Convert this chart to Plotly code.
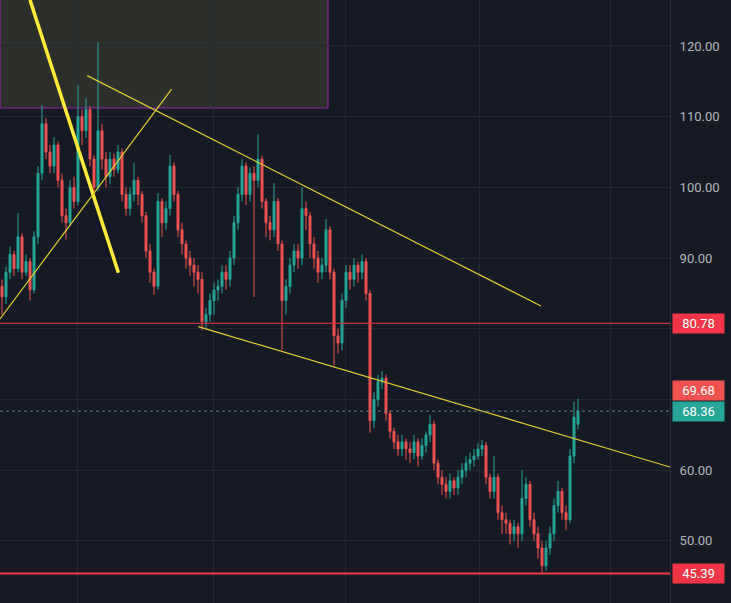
import plotly.graph_objects as go

close = [84.5, 88, 90.5, 88.5, 93, 88, 89.5, 85.5, 93, 102,
         109, 105, 103, 106, 101, 96, 95, 100, 98, 110,
         108, 111, 104, 100, 108, 104, 101.5, 104, 102.5, 105,
         99, 97, 99, 101, 99, 96, 91, 88, 86, 98,
         95, 97, 103, 99, 94, 92, 90, 89, 88, 87,
         81, 82, 84, 85.5, 86, 88, 87, 90, 95, 99,
         103, 99, 102, 101, 104, 98, 95, 94, 98, 92,
         84, 86, 89, 91, 90, 97, 96, 92, 90, 88,
         89, 94, 88, 79, 78, 84, 88, 87, 89, 88,
         89.5, 85, 67, 70, 72.5, 73, 68, 65.5, 64, 63,
         64, 63, 62.5, 64, 62, 63.5, 65, 66.5, 61, 59,
         58, 57, 58.5, 57.5, 59, 60, 61, 61.5, 62, 63,
         63.5, 59, 57, 59, 54, 53, 52.5, 51, 52, 51,
         56, 58, 53, 51, 49, 46.5, 49, 51, 55, 57,
         54, 53, 62, 67.5, 68.36]

open_ = [86, 84.5, 88, 90.5, 88.5, 93, 88, 89.5, 85.5, 93,
         102, 109, 105, 103, 106, 101, 96, 95, 100, 98,
         110, 108, 111, 104, 100, 108, 104, 101.5, 104, 102.5,
         105, 99, 97, 99, 101, 99, 96, 91, 88, 86,
         98, 95, 97, 103, 99, 94, 92, 90, 89, 88,
         87, 81, 82, 84, 85.5, 86, 88, 87, 90, 95,
         99, 103, 99, 102, 101, 104, 98, 95, 94, 98,
         92, 84, 86, 89, 91, 90, 97, 96, 92, 90,
         88, 89, 94, 88, 79, 78, 84, 88, 87, 89,
         88, 89.5, 85, 67, 70, 72.5, 73, 68, 65.5, 64,
         63, 64, 63, 62.5, 64, 62, 63.5, 65, 66.5, 61,
         59, 58, 57, 58.5, 57.5, 59, 60, 61, 61.5, 62,
         63, 63.5, 59, 57, 59, 54, 53, 52.5, 51, 52,
         51, 56, 58, 53, 51, 49, 46.5, 49, 51, 55,
         57, 54, 53, 62, 66.5]

high = [87, 88.8, 91.6, 91, 96.4, 93.5, 90.5, 90, 93.8, 103,
        111.6, 109.8, 106, 107.1, 106.5, 102, 97, 101, 101.5, 114.5,
        111, 112.6, 111.5, 104.5, 120.5, 109, 105, 105, 104.8, 106,
        105.5, 100, 100, 103.5, 101.5, 99.5, 96.5, 92, 88.5, 99.2,
        98.5, 98, 104.6, 103.5, 99.5, 95, 92.5, 91, 90, 89,
        88, 83, 85, 86.5, 87, 89, 89, 91, 96, 100,
        104, 103.5, 102.8, 103, 107.5, 104.5, 98.5, 96, 100.6, 98.5,
        92.5, 87, 90, 92, 92, 100, 98, 96.5, 93, 91,
        90, 95.5, 94.5, 88.5, 80, 85, 89, 89, 90, 89.5,
        90.5, 90, 85.5, 71, 73.5, 74, 73.5, 68.5, 66, 65,
        65, 64.5, 64, 65, 64.5, 64.5, 65.5, 67.8, 67, 61.5,
        60, 59, 59.5, 59, 60, 61, 62, 62.5, 63, 63.8,
        64.3, 64, 59.5, 62, 59.5, 55, 54, 53, 53, 52.5,
        60, 59, 58.5, 54, 52, 50, 50, 52, 56, 58.5,
        57.5, 55, 63, 69.68, 70.1]

low = [82, 83.5, 87, 87.5, 88, 87, 87.5, 84, 85, 92,
       101, 104, 102, 102, 100, 95, 92.6, 94.5, 97, 97.5,
       106, 107, 103, 99, 99.5, 102.5, 100, 100.5, 101.5, 102,
       98, 96, 96, 98, 97.5, 95, 90, 86.5, 84.8, 85.5,
       93, 94, 96, 98, 93, 90.5, 88.5, 87.5, 86, 85,
       79.8, 80, 81, 82, 84, 85, 85.5, 86, 89, 94,
       98, 97.5, 98, 84.5, 100, 97, 93, 92.5, 93, 91,
       77, 82, 85, 88, 88.5, 89, 94, 90, 88.5, 86.5,
       87, 88, 87, 74.8, 76.5, 77, 83, 85.5, 86, 86.5,
       87, 84, 65.3, 66, 69, 71.5, 67, 64.5, 63, 62,
       62, 61.5, 61, 61.5, 60.5, 61.5, 62.5, 64, 60, 58,
       56.5, 56, 56, 56.5, 56.5, 58, 59, 60, 60.5, 61.5,
       62, 58, 56, 56, 53, 51, 51, 49.5, 50, 49,
       50, 55, 52, 50, 47.5, 45.4, 45.8, 48, 50, 54,
       53, 51.5, 52.5, 61, 65.8]

y_ticks = [50, 60, 70, 80, 90, 100, 110, 120]
y_tick_text = ["50.00", "60.00", "", "", "90.00", "100.00", "110.00", "120.00"]
x_grid = [18.75, 52.75, 85.75, 119.25, 152]
x_idx = list(range(len(close)))

# price levels
level_red = 80.78
level_low = 45.39
last_price = 68.36
high_label = 69.68

# drawn trend lines (index, price)
thick_line = [(7.0, 126.5), (29.1, 87.93)]
up_line = [(-0.5, 81.4), (42.4, 113.88)]
upper_down = [(21.3, 115.8), (134.75, 83.22)]
lower_down = [(49.1, 80.3), (167.0, 60.45)]
box = [(-0.5, 130.0), (81.5, 111.23)]

BG = "#161a25"
GRID = "#242833"
TEAL = "#26a69a"
RED = "#ef5350"

fig = go.Figure()
fig.add_trace(go.Candlestick(
    x=x_idx, open=open_, high=high, low=low, close=close,
    increasing=dict(line=dict(color=TEAL, width=1), fillcolor=TEAL),
    decreasing=dict(line=dict(color=RED, width=1), fillcolor=RED),
    whiskerwidth=0, showlegend=False, hoverinfo="skip",
))

shapes = []
shapes.append(dict(type="rect", xref="x", yref="y",
                   x0=box[0][0], y0=box[0][1], x1=box[1][0], y1=box[1][1],
                   fillcolor="rgba(160,155,70,0.17)",
                   line=dict(color="#9c27b0", width=1), layer="below"))
for (a, b), w, col in [(thick_line, 3.5, "#ffeb3b"), (up_line, 1.2, "#e0cf2e"),
                       (upper_down, 1.2, "#e0cf2e"), (lower_down, 1.2, "#e0cf2e")]:
    shapes.append(dict(type="line", xref="x", yref="y", x0=a[0], y0=a[1],
                       x1=b[0], y1=b[1], line=dict(color=col, width=w)))
shapes.append(dict(type="line", xref="paper", yref="y", x0=0, x1=1,
                   y0=level_red, y1=level_red, line=dict(color="#f23645", width=1)))
shapes.append(dict(type="line", xref="paper", yref="y", x0=0, x1=1,
                   y0=level_low, y1=level_low, line=dict(color="#f23645", width=2)))
shapes.append(dict(type="line", xref="paper", yref="y", x0=0, x1=1,
                   y0=last_price, y1=last_price,
                   line=dict(color="#5d8a86", width=1, dash="dot")))

labels = [(level_red, "80.78", "#f23645", level_red),
          (high_label, "69.68", "#ef5350", 71.3),
          (last_price, "68.36", "#26a69a", last_price),
          (level_low, "45.39", "#f23645", level_low)]
annotations = []
for val, txt, col, ypos in labels:
    annotations.append(dict(xref="paper", yref="y", x=1, y=ypos, text=txt,
                            xanchor="left", yanchor="middle", xshift=2,
                            showarrow=False, bgcolor=col, borderpad=2,
                            width=47, align="center",
                            font=dict(color="#ffffff", size=13, family="Roboto")))

fig.update_layout(
    width=731, height=603,
    margin=dict(l=0, r=61, t=0, b=0),
    paper_bgcolor=BG, plot_bgcolor=BG,
    shapes=shapes, annotations=annotations,
    xaxis=dict(range=[-0.5, 167], rangeslider=dict(visible=False),
               tickvals=x_grid, showticklabels=False, showgrid=True,
               gridcolor=GRID, zeroline=False, ticks=""),
    yaxis=dict(range=[41.22, 126.5], side="right", tickvals=y_ticks,
               ticktext=y_tick_text, showgrid=True,
               gridcolor=GRID, zeroline=False, ticks="", ticklabelstandoff=6,
               showline=True, linecolor="#2a2e39", mirror=False,
               tickfont=dict(color="#b2b5be", size=13, family="Roboto")),
    showlegend=False,
)

fig.write_html("out.html")
